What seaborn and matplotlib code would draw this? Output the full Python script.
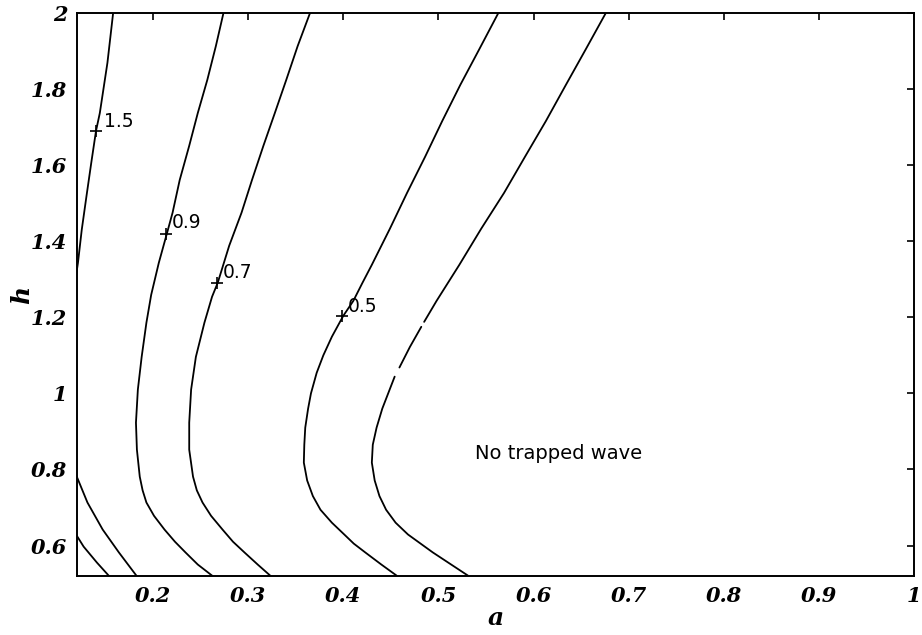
import matplotlib
matplotlib.use("Agg")
import matplotlib.pyplot as plt
import seaborn as sns

# contour lines: (a, h) pairs per level
a_15 = [0.158, 0.152, 0.144, 0.140, 0.135, 0.130, 0.125, 0.121, 0.119]
h_15 = [2.000, 1.869, 1.737, 1.690, 1.606, 1.519, 1.430, 1.343, 1.309]

a_09 = [0.274, 0.266, 0.257, 0.247, 0.238, 0.228, 0.2205, 0.2145, 0.206, 0.198,
        0.193, 0.188, 0.184, 0.182, 0.183, 0.186, 0.189, 0.193, 0.201, 0.212,
        0.223, 0.234, 0.247, 0.263]
h_09 = [2.000, 1.913, 1.824, 1.737, 1.651, 1.561, 1.475, 1.420, 1.343, 1.259,
        1.186, 1.096, 1.010, 0.923, 0.852, 0.781, 0.745, 0.713, 0.678, 0.642,
        0.610, 0.582, 0.550, 0.519]

a_07 = [0.365, 0.352, 0.340, 0.328, 0.316, 0.304, 0.293, 0.280, 0.268, 0.262,
        0.254, 0.245, 0.240, 0.238, 0.238, 0.242, 0.246, 0.252, 0.261, 0.273,
        0.284, 0.296, 0.310, 0.324]
h_07 = [2.000, 1.913, 1.824, 1.737, 1.651, 1.561, 1.475, 1.388, 1.291, 1.254,
        1.186, 1.096, 1.010, 0.923, 0.852, 0.781, 0.745, 0.713, 0.678, 0.642,
        0.610, 0.582, 0.550, 0.519]

a_05 = [0.563, 0.543, 0.523, 0.504, 0.486, 0.467, 0.449, 0.430, 0.420, 0.4105,
        0.400, 0.388, 0.379, 0.372, 0.366, 0.363, 0.360, 0.359, 0.3585, 0.362,
        0.368, 0.376, 0.388, 0.401, 0.411, 0.423, 0.440, 0.456]
h_05 = [2.000, 1.905, 1.811, 1.716, 1.622, 1.527, 1.433, 1.338, 1.290, 1.243,
        1.204, 1.149, 1.100, 1.054, 1.000, 0.960, 0.910, 0.865, 0.818, 0.771,
        0.730, 0.694, 0.660, 0.629, 0.605, 0.582, 0.550, 0.521]

# trapped-wave boundary, drawn in three pieces (the scan has gaps)
a_b1 = [0.676, 0.655, 0.634, 0.613, 0.591, 0.569, 0.545, 0.522, 0.498, 0.485]
h_b1 = [2.000, 1.905, 1.811, 1.716, 1.622, 1.527, 1.433, 1.338, 1.243, 1.188]
a_b2 = [0.482, 0.470, 0.459]
h_b2 = [1.175, 1.122, 1.068]
a_b3 = [0.454, 0.441, 0.435, 0.431, 0.430, 0.433, 0.438, 0.445, 0.455, 0.468,
        0.494, 0.531]
h_b3 = [1.044, 0.960, 0.910, 0.865, 0.818, 0.771, 0.730, 0.694, 0.660, 0.629,
        0.582, 0.521]

# two short lines in the lower left corner
a_c1 = [0.119, 0.131, 0.147, 0.164, 0.183]
h_c1 = [0.786, 0.713, 0.642, 0.582, 0.519]
a_c2 = [0.119, 0.127, 0.141, 0.154]
h_c2 = [0.629, 0.597, 0.555, 0.519]

# contour labels: marker point and text anchor
label_text = ["1.5", "0.9", "0.7", "0.5"]
label_a = [0.140, 0.214, 0.267, 0.399]
label_h = [1.690, 1.420, 1.291, 1.204]
text_a = [0.148, 0.220, 0.273, 0.405]
text_h = [1.716, 1.448, 1.317, 1.228]

x_ticks = [0.2, 0.3, 0.4, 0.5, 0.6, 0.7, 0.8, 0.9, 1.0]
x_labels = ["0.2", "0.3", "0.4", "0.5", "0.6", "0.7", "0.8", "0.9", "1"]
y_ticks = [0.6, 0.8, 1.0, 1.2, 1.4, 1.6, 1.8, 2.0]
y_labels = ["0.6", "0.8", "1", "1.2", "1.4", "1.6", "1.8", "2"]

sns.set_style("white")
plt.rcParams["font.family"] = ["DejaVu Serif"]
plt.rcParams["text.color"] = "black"
plt.rcParams["axes.labelcolor"] = "black"

fig = plt.figure(figsize=(9.22, 6.35), dpi=100)
ax = fig.add_axes([0.0835, 0.093, 0.9078, 0.8865])

curves = [(a_15, h_15), (a_09, h_09), (a_07, h_07), (a_05, h_05),
          (a_b1, h_b1), (a_b2, h_b2), (a_b3, h_b3), (a_c1, h_c1), (a_c2, h_c2)]
for xs, ys in curves:
    sns.lineplot(x=xs, y=ys, sort=False, estimator=None, color="black",
                 linewidth=1.3, ax=ax)

sns.scatterplot(x=label_a, y=label_h, marker="+", s=75, color="black",
                linewidth=1.2, ax=ax)
for t, xa, yh in zip(label_text, text_a, text_h):
    ax.text(xa, yh, t, fontsize=13.5, family=["DejaVu Sans"], color="black",
            ha="left", va="center")
ax.text(0.538, 0.842, "No trapped wave", fontsize=14, color="black",
        family=["DejaVu Sans"], ha="left", va="center")

ax.set_xlim(0.12, 1.0)
ax.set_ylim(0.52, 2.0)
ax.set_xticks(x_ticks)
ax.set_xticklabels(x_labels)
ax.set_yticks(y_ticks)
ax.set_yticklabels(y_labels)
ax.tick_params(direction="in", top=True, right=True, length=5, width=1.2,
               labelsize=15, pad=7, colors="black")
for lbl in ax.get_xticklabels() + ax.get_yticklabels():
    lbl.set_fontweight("bold")
    lbl.set_fontstyle("italic")
ax.set_xlabel("a", fontsize=18, fontweight="bold", fontstyle="italic",
              labelpad=0)
ax.set_ylabel("h", fontsize=18, fontweight="bold", fontstyle="italic")
ax.yaxis.set_label_coords(-0.051, 0.5)
for sp in ax.spines.values():
    sp.set_visible(True)
    sp.set_color("black")
    sp.set_linewidth(1.4)

fig.savefig("out.png", dpi=100, facecolor="white")
